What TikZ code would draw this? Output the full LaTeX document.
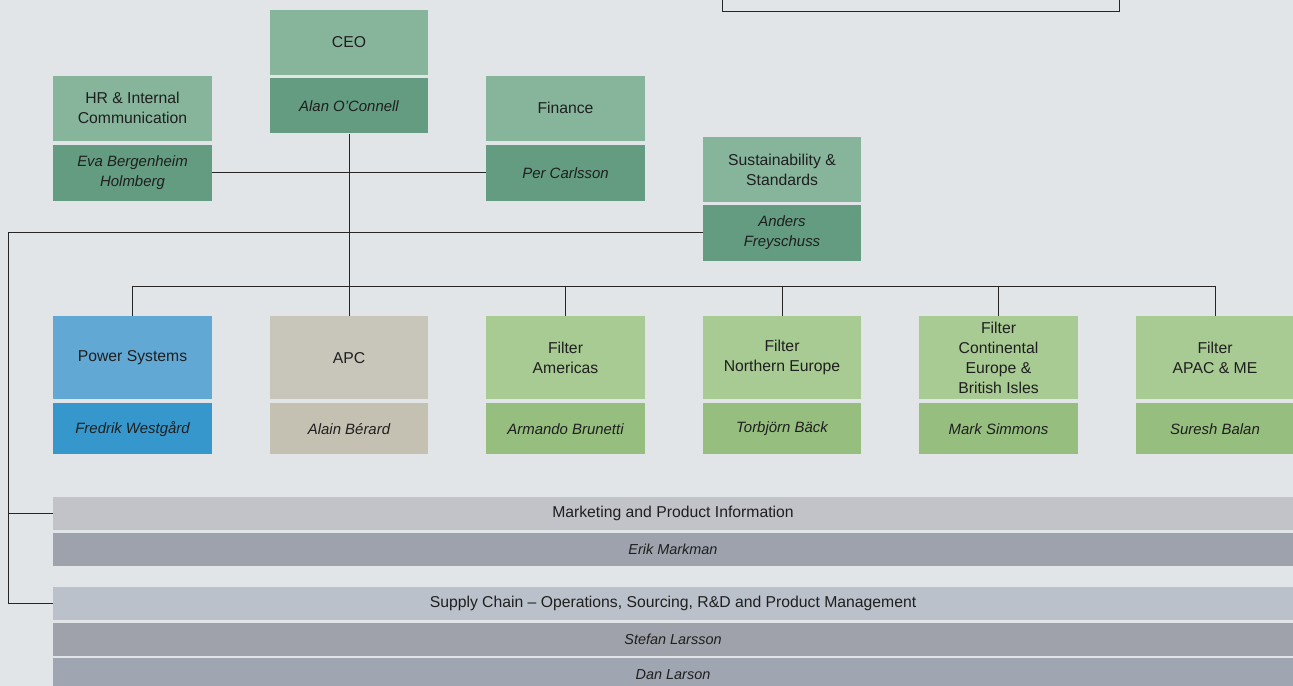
\documentclass[tikz,border=0pt]{standalone}
\usepackage{fontspec}
\setmainfont{Liberation Sans}
\definecolor{wall}{HTML}{E1E5E8}
\definecolor{grtitle}{HTML}{86B59C}
\definecolor{grperson}{HTML}{639C80}
\definecolor{bltitle}{HTML}{62A8D5}
\definecolor{blperson}{HTML}{3597CC}
\definecolor{apctitle}{HTML}{C8C6BB}
\definecolor{apcperson}{HTML}{C4C1B3}
\definecolor{fltitle}{HTML}{A8CA93}
\definecolor{flperson}{HTML}{96BE7F}
\definecolor{mkbar}{HTML}{C2C3C8}
\definecolor{mkperson}{HTML}{9DA2AC}
\definecolor{scbar}{HTML}{BAC1CB}
\definecolor{scperson}{HTML}{9FA2AA}
\definecolor{scperson2}{HTML}{9FA5B1}

\tikzstyle{unit} = [rectangle,inner sep=0pt,align=center,text=black!88,font=\fontsize{15.8}{20}\selectfont]
\tikzstyle{titlebox} = [unit,minimum width=158.5bp,minimum height=64.5bp]
\tikzstyle{personbox} = [unit,minimum width=158.5bp,minimum height=55.5bp,font=\fontsize{15}{20}\selectfont\itshape]
\tikzstyle{divtitle} = [unit,minimum width=158.5bp,minimum height=83.3bp]
\tikzstyle{divperson} = [unit,minimum width=158.5bp,minimum height=51bp,font=\fontsize{15}{20}\selectfont\itshape]
\tikzstyle{bar} = [unit,minimum width=1240bp,minimum height=33.3bp]
\tikzstyle{barperson} = [bar,font=\fontsize{14.5}{18}\selectfont\itshape]
\tikzstyle{wire} = [draw=black!85,line width=1bp]

\begin{document}
\begin{tikzpicture}[x=1bp,y=-1bp]
		\useasboundingbox (0,0) rectangle (1293,686);
		\clip (0,0) rectangle (1293,686);
		\fill[wall] (0,0) rectangle (1293,686);
		% top group
		\node[wire,minimum width=397bp,minimum height=60bp] (topbox) at (920.5,-18) {};
		\node[titlebox,fill=grtitle] (ceot) at (349,42.3) {CEO};
		\node[personbox,fill=grperson] (ceop) at (349,105.7) {Alan O'Connell};
		\node[titlebox,fill=grtitle] (hrt) at (132.5,108.3) {HR \& Internal\\Communication};
		\node[personbox,fill=grperson] (hrp) at (132.5,172.8) {Eva Bergenheim\\Holmberg};
		\node[titlebox,fill=grtitle] (fint) at (565.5,108.3) {Finance};
		\node[personbox,fill=grperson] (finp) at (565.5,172.8) {Per Carlsson};
		\node[titlebox,fill=grtitle] (sust) at (782,169.5) {Sustainability \&\\Standards};
		\node[personbox,fill=grperson] (susp) at (782,232.8) {Anders\\Freyschuss};
		% divisions
		\node[divtitle,fill=bltitle] (pst) at (132.5,357.7) {Power Systems};
		\node[divperson,fill=blperson] (psp) at (132.5,428.8) {Fredrik Westgård};
		\node[divtitle,fill=apctitle] (apct) at (349,357.7) {APC};
		\node[divperson,fill=apcperson] (apcp) at (349,428.8) {Alain Bérard};
		\node[divtitle,fill=fltitle] (amt) at (565.5,357.7) {Filter\\Americas};
		\node[divperson,fill=flperson] (amp) at (565.5,428.8) {Armando Brunetti};
		\node[divtitle,fill=fltitle] (net) at (782,357.7) {Filter\\Northern Europe};
		\node[divperson,fill=flperson] (nep) at (782,428.8) {Torbjörn Bäck};
		\node[divtitle,fill=fltitle] (cet) at (998.5,357.7) {Filter\\Continental\\Europe \&\\British Isles};
		\node[divperson,fill=flperson] (cep) at (998.5,428.8) {Mark Simmons};
		\node[divtitle,fill=fltitle] (apact) at (1215,357.7) {Filter\\APAC \& ME};
		\node[divperson,fill=flperson] (apacp) at (1215,428.8) {Suresh Balan};
		% group functions
		\node[bar,fill=mkbar] (mkt) at (673,513.3) {Marketing and Product Information};
		\node[barperson,fill=mkperson] (mkp) at (673,549.3) {Erik Markman};
		\node[bar,fill=scbar] (supt) at (673,603.3) {Supply Chain – Operations, Sourcing, R\&D and Product Management};
		\node[barperson,fill=scperson] (supp1) at (673,639.2) {Stefan Larsson};
		\node[barperson,fill=scperson2] (supp2) at (673,674.7) {Dan Larson};
		% lines
		\coordinate (bus) at (349,286.7);
		\coordinate (rail) at (8,233.5);
		\draw[wire] (ceop.south) -- (apct.north);
		\draw[wire] (hrp.east) -- (finp.west);
		\draw[wire] (pst.north) |- (bus) -| (apact.north);
		\foreach \u in {amt,net,cet} \draw[wire] (\u.north) -- (\u.north |- bus);
		\draw[wire] (susp.west) -- (susp.west -| rail) |- (supt.west);
		\draw[wire] (rail |- mkt.west) -- (mkt.west);
\end{tikzpicture}
\end{document}
